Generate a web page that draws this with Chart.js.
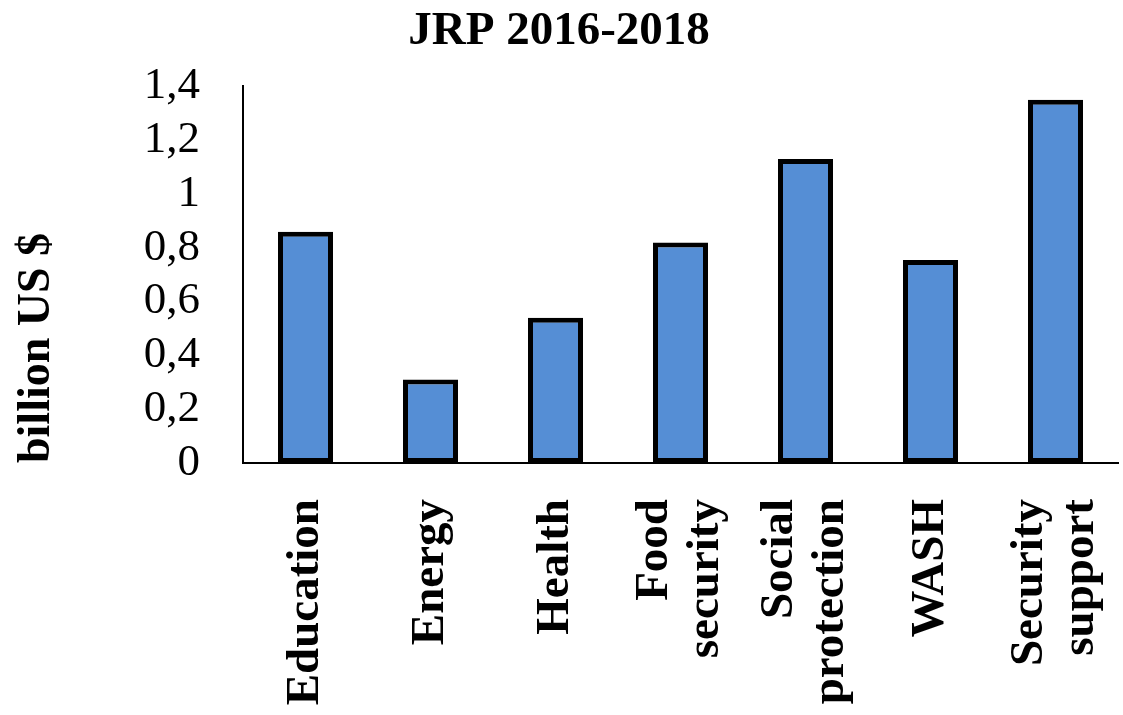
<!DOCTYPE html>
<html lang="en">
<head>
    <meta charset="UTF-8">
    <title>JRP 2016-2018</title>
    <style>
        body { margin: 0; background: #fff; }
    </style>
</head>
<body>
    <canvas id="myChart" width="1123" height="715"></canvas>

    <script src="https://cdn.jsdelivr.net/npm/chart.js"></script>
    <script>
        // 카테고리 / 값
        const categories = [
            "Education",
            "Energy",
            "Health",
            ["Food", "security"],
            ["Social", "protection"],
            "WASH",
            ["Security", "support"]
        ];
        const fundValues = [0.86, 0.31, 0.54, 0.82, 1.13, 0.755, 1.35];
        const yTickLabels = ["0", "0,2", "0,4", "0,6", "0,8", "1", "1,2", "1,4"];

        const serif = "'Liberation Serif', 'Times New Roman', serif";

        // 여러 줄 라벨을 눈금 중앙에 오도록
        const centerLines = {
            id: "centerLines",
            beforeDraw(chart) {
                const items = chart.scales.x.getLabelItems();
                items.forEach(function(it) {
                    if (Array.isArray(it.label)) {
                        const lh = it.font.lineHeight;
                        it.textOffset = lh / 2 - (it.label.length - 1) * lh / 2;
                    }
                });
            }
        };

        const ctx = document.getElementById("myChart");
        let myChart = new Chart(ctx, {
            type: 'bar',
            data: {
                labels: categories,
                datasets: [{
                    label: "billion US $",
                    data: fundValues,
                    backgroundColor: '#558ED5',
                    borderColor: '#000',
                    borderWidth: 5,
                    borderSkipped: false,
                    barPercentage: 0.44,
                    categoryPercentage: 1
                }]
            },
            options: {
                responsive: false,
                animation: false,
                layout: { padding: { right: 5 } },
                plugins: {
                    legend: { display: false },
                    tooltip: { enabled: false },
                    title: {
                        display: true,
                        text: 'JRP 2016-2018',
                        color: '#000',
                        font: { family: serif, size: 47, weight: 'bold', lineHeight: 1.2 },
                        padding: { top: 4, bottom: 26 }
                    }
                },
                scales: {
                    x: {
                        grid: { display: false },
                        border: { display: true, color: '#000', width: 2 },
                        ticks: {
                            color: '#000',
                            minRotation: 90,
                            maxRotation: 90,
                            autoSkip: false,
                            padding: 28,
                            font: { family: serif, size: 47, weight: 'bold', lineHeight: 1.07 }
                        },
                        afterFit(scale) {
                            scale.height = 252;
                            scale.paddingLeft = 0;
                            scale.paddingRight = 0;
                        }
                    },
                    y: {
                        min: 0,
                        max: 1.4,
                        grid: { display: false },
                        border: { display: true, color: '#000', width: 2 },
                        ticks: {
                            stepSize: 0.2,
                            autoSkip: false,
                            color: '#000',
                            padding: 35,
                            font: { family: serif, size: 45, lineHeight: 1.0 },
                            callback: function(v, i) { return yTickLabels[i]; }
                        },
                        title: {
                            display: true,
                            text: 'billion US $',
                            align: 'start',
                            color: '#000',
                            font: { family: serif, size: 46, weight: 'bold', lineHeight: 1.2 },
                            padding: { top: 10, bottom: 0 }
                        },
                        afterFit(scale) {
                            scale.width = 243;
                        }
                    }
                }
            },
            plugins: [centerLines]
        });
    </script>
</body>
</html>
